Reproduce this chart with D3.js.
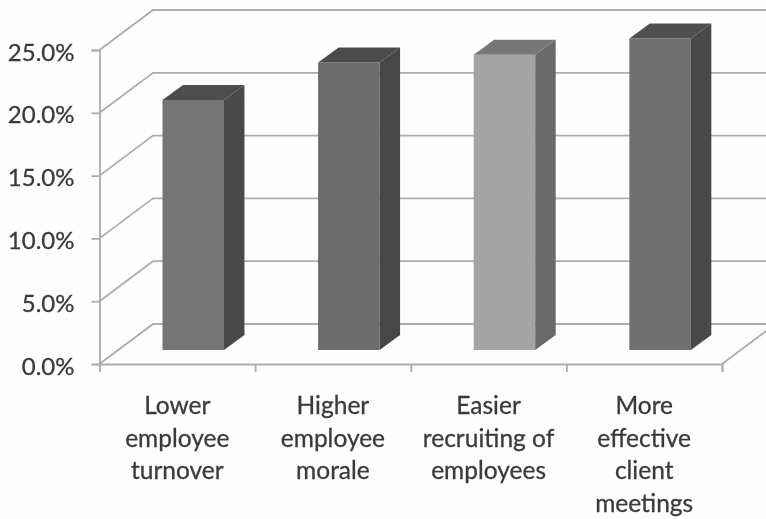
<!DOCTYPE html>
<html>
<head>
<meta charset="utf-8">
<script src="https://cdn.jsdelivr.net/npm/d3@7/dist/d3.min.js"></script>
<style>
html,body{margin:0;padding:0;background:#fff;}
svg{display:block;}
text{font-family:Lato,"Open Sans",sans-serif;fill:#3a3a3a;stroke:#3a3a3a;stroke-width:0.3px;}
</style>
</head>
<body>
<svg id="chart" width="766" height="519"></svg>
<script>
const categories = [
  ["Lower","employee","turnover"],
  ["Higher","employee","morale"],
  ["Easier","recruiting of","employees"],
  ["More","effective","client","meetings"]
];
const values = [19.9, 22.9, 23.5, 24.8];
const frontColors = ["#757575","#6c6c6c","#a4a4a4","#707070"];
const sideColors  = ["#4a4a4a","#474747","#6a6a6a","#4a4a4a"];
const topColors   = ["#4e4e4e","#4c4c4c","#777777","#505050"];
const yTicks = [0,5,10,15,20,25];

const W = 766, H = 519;
const svg = d3.select("#chart");
const defs = svg.append("defs");
defs.append("filter").attr("id","soft")
  .attr("x",0).attr("y",0).attr("width",1).attr("height",1)
  .attr("filterUnits","objectBoundingBox")
  .append("feGaussianBlur").attr("stdDeviation",0.55);

const root = svg.append("g").attr("filter","url(#soft)");
root.append("rect").attr("width",W).attr("height",H).attr("fill","#fefefe");

const y = d3.scaleLinear().domain([0,25]).range([364,50]);
const xEdge = d3.scaleLinear().domain([0,4]).range([99.5,722]);
const x = d3.scaleBand().domain(d3.range(categories.length)).range([99.5,722]).padding(0);

const wallDx = 53.5, wallDy = -40;
const barW = 61.5, barShift = 15.9, barBase = 350, barDx = 20.5, barDy = -15;
const gridColor = "#adadad";
const barY = v => barBase - (y(0)-y(v));
const poly = pts => d3.line()(pts) + "Z";

const grid = root.append("g").attr("fill","none").attr("stroke",gridColor).attr("stroke-width",1.8);
grid.selectAll("path").data(yTicks).join("path")
  .attr("d", t => d3.line()([
    [xEdge(0), y(t)],
    [xEdge(0)+wallDx, y(t)+wallDy],
    [W+20, y(t)+wallDy]
  ]));
grid.append("path").attr("d", d3.line()([
  [xEdge(4), y(0)],
  [xEdge(4)+wallDx, y(0)+wallDy]
]));

const yAxis = d3.axisLeft(y).tickValues(yTicks).tickSize(8).tickPadding(17)
  .tickFormat(d => d3.format(".1f")(d) + "%");
const gy = root.append("g").attr("transform",`translate(${xEdge(0)},0)`).call(yAxis);
const xAxis = d3.axisBottom(xEdge).ticks(4).tickSize(8).tickFormat("");
const gx = root.append("g").attr("transform",`translate(0,${y(0)})`).call(xAxis);
root.selectAll(".domain").attr("stroke",gridColor).attr("stroke-width",1.8);
root.selectAll(".tick line").attr("stroke",gridColor).attr("stroke-width",1.8);
gy.selectAll("text").attr("font-size",24).attr("dy","0.42em").attr("text-anchor","end");

const bars = root.append("g").selectAll("g").data(values).join("g");
const left = (d,i) => x(i) + (x.bandwidth()-barW)/2 + barShift;
bars.append("path").attr("fill",(d,i)=>frontColors[i])
  .attr("d",(d,i)=>{const l=left(d,i);return poly([[l,barBase],[l,barY(d)],[l+barW,barY(d)],[l+barW,barBase]]);});
bars.append("path").attr("fill",(d,i)=>sideColors[i])
  .attr("d",(d,i)=>{const r=left(d,i)+barW;return poly([[r,barBase],[r,barY(d)],[r+barDx,barY(d)+barDy],[r+barDx,barBase+barDy]]);});
bars.append("path").attr("fill",(d,i)=>topColors[i])
  .attr("d",(d,i)=>{const l=left(d,i);return poly([[l,barY(d)],[l+barDx,barY(d)+barDy],[l+barW+barDx,barY(d)+barDy],[l+barW,barY(d)]]);});

const labels = root.append("g").selectAll("text").data(categories).join("text")
  .attr("text-anchor","middle").attr("font-size",24.5);
labels.selectAll("tspan").data((d,i)=>d.map(s=>({s,i}))).join("tspan")
  .attr("x",d=>x(d.i)+x.bandwidth()/2)
  .attr("y",(d,j)=>414+j*32.6)
  .text(d=>d.s);
</script>
</body>
</html>
